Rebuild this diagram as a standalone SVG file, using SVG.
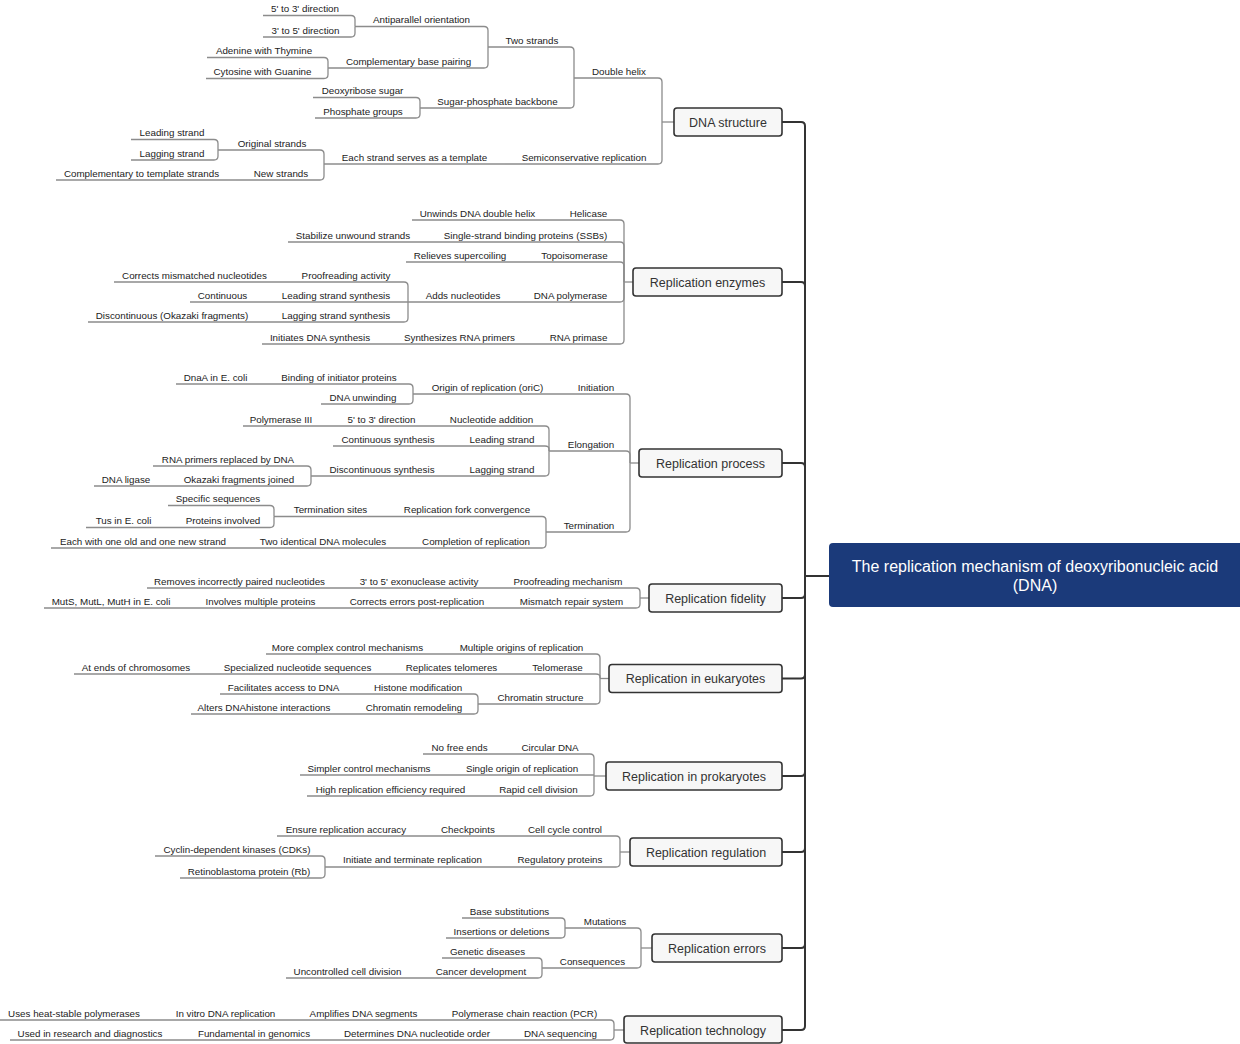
<svg xmlns="http://www.w3.org/2000/svg" width="1240" height="1044" viewBox="0 0 1240 1044">
<style>
.t{font-family:"Liberation Sans",Arial,sans-serif;font-size:9.8px;fill:#222;text-anchor:middle}
.m{font-family:"Liberation Sans",Arial,sans-serif;font-size:12.5px;fill:#333;text-anchor:middle}
.r{font-family:"Liberation Sans",Arial,sans-serif;font-size:16px;fill:#fff;text-anchor:middle}
.box{fill:#f7f7f7;stroke:#333;stroke-width:1.6}
.ln path{fill:none;stroke:#8c8c8c;stroke-width:1.3}
.tr path{fill:none;stroke:#333;stroke-width:2}
</style>
<rect width="1240" height="1044" fill="#fff"/>
<g id="connectors">
<g class="tr">
<path d="M782 122H801Q805 122 805 126V576"/>
<path d="M782 282H801Q805 282 805 286V576"/>
<path d="M782 463H801Q805 463 805 467V576"/>
<path d="M782 598H801Q805 598 805 594V576"/>
<path d="M782 678.5H801Q805 678.5 805 674.5V576"/>
<path d="M782 776H801Q805 776 805 772V576"/>
<path d="M782 852H801Q805 852 805 848V576"/>
<path d="M782 948H801Q805 948 805 944V576"/>
<path d="M782 1030H801Q805 1030 805 1026V576"/>
<path d="M805 576H829"/>
</g>
<g class="ln">
<!-- DNA structure -->
<path d="M662 122H674"/>
<path d="M574 78H658Q662 78 662 82V122"/>
<path d="M505 164H658Q662 164 662 160V122"/>
<path d="M488 47H570Q574 47 574 51V78"/>
<path d="M420 108H570Q574 108 574 104V78"/>
<path d="M355 26.5H484Q488 26.5 488 30.5V47"/>
<path d="M328 68H484Q488 68 488 64V47"/>
<path d="M263 15.5H351Q355 15.5 355 19.5V26.5"/>
<path d="M263 37H351Q355 37 355 33V26.5"/>
<path d="M207 57.5H324Q328 57.5 328 61.5V68"/>
<path d="M206 78.5H324Q328 78.5 328 74.5V68"/>
<path d="M313 97.5H416Q420 97.5 420 101.5V108"/>
<path d="M315 118H416Q420 118 420 114V108"/>
<path d="M324 164H505"/>
<path d="M218 150H320Q324 150 324 154V164"/>
<path d="M236 180H320Q324 180 324 176V164"/>
<path d="M131 139.5H214Q218 139.5 218 143.5V150"/>
<path d="M131 160H214Q218 160 218 156V150"/>
<path d="M56 180H236"/>
<!-- Replication enzymes -->
<path d="M624 282H633"/>
<path d="M412 220H620Q624 220 624 224V282"/>
<path d="M288 242H620Q624 242 624 246V282"/>
<path d="M406 262H620Q624 262 624 266V282"/>
<path d="M408 302H620Q624 302 624 298V282"/>
<path d="M262 344H620Q624 344 624 340V282"/>
<path d="M114 282H404Q408 282 408 286V302"/>
<path d="M190 302H408"/>
<path d="M88 322H404Q408 322 408 318V302"/>
<!-- Replication process -->
<path d="M630 463H639"/>
<path d="M413 394H626Q630 394 630 398V463"/>
<path d="M549 451H626Q630 451 630 455V463"/>
<path d="M546 532H626Q630 532 630 528V463"/>
<path d="M176 384H409Q413 384 413 388V394"/>
<path d="M321 404H409Q413 404 413 400V394"/>
<path d="M243 426H545Q549 426 549 430V451"/>
<path d="M333 446H545Q549 446 549 449V451"/>
<path d="M311 476H545Q549 476 549 472V451"/>
<path d="M153 466H307Q311 466 311 470V476"/>
<path d="M94 486H307Q311 486 311 482V476"/>
<path d="M274 516.5H542Q546 516.5 546 520.5V532"/>
<path d="M51 548H542Q546 548 546 544V532"/>
<path d="M168 505.5H270Q274 505.5 274 509.5V516.5"/>
<path d="M86 527.5H270Q274 527.5 274 523.5V516.5"/>
<!-- Replication fidelity -->
<path d="M640 598H649"/>
<path d="M147 588H636Q640 588 640 592V598"/>
<path d="M44 608H636Q640 608 640 604V598"/>
<!-- Eukaryotes -->
<path d="M600 678.5H609"/>
<path d="M266 654H596Q600 654 600 658V678.5"/>
<path d="M74 674H596Q600 674 600 677V678.5"/>
<path d="M478 704H596Q600 704 600 700V678.5"/>
<path d="M220 694H474Q478 694 478 698V704"/>
<path d="M191 714H474Q478 714 478 710V704"/>
<!-- Prokaryotes -->
<path d="M594 776H606"/>
<path d="M423 754H590Q594 754 594 758V776"/>
<path d="M300 775H594"/>
<path d="M307 796H590Q594 796 594 792V776"/>
<!-- Regulation -->
<path d="M620 852H630"/>
<path d="M277 836H616Q620 836 620 840V852"/>
<path d="M325 867H616Q620 867 620 863V852"/>
<path d="M155 856H321Q325 856 325 860V867"/>
<path d="M180 878H321Q325 878 325 874V867"/>
<!-- Errors -->
<path d="M641 948H652"/>
<path d="M565 928H637Q641 928 641 932V948"/>
<path d="M542 968H637Q641 968 641 964V948"/>
<path d="M462 918H561Q565 918 565 922V928"/>
<path d="M446 938H561Q565 938 565 934V928"/>
<path d="M442 958H538Q542 958 542 962V968"/>
<path d="M286 978H538Q542 978 542 974V968"/>
<!-- Technology -->
<path d="M614 1030H624"/>
<path d="M0 1020H610Q614 1020 614 1024V1030"/>
<path d="M10 1040H610Q614 1040 614 1036V1030"/>
</g>
</g>

<g id="root">
<rect x="829" y="543" width="415" height="64" rx="4" fill="#1b3a7a"/>
<text class="r" x="1035" y="571.5">The replication mechanism of deoxyribonucleic acid</text>
<text class="r" x="1035" y="591">(DNA)</text>
</g>

<g id="dna-structure">
<rect class="box" x="674" y="108" width="108" height="28" rx="3"/>
<text class="m" x="728" y="126.5">DNA structure</text>
<text class="t" x="305" y="12">5' to 3' direction</text>
<text class="t" x="305.5" y="33.5">3' to 5' direction</text>
<text class="t" x="421.5" y="23">Antiparallel orientation</text>
<text class="t" x="264" y="54">Adenine with Thymine</text>
<text class="t" x="262.5" y="75">Cytosine with Guanine</text>
<text class="t" x="408.5" y="64.5">Complementary base pairing</text>
<text class="t" x="532" y="43.5">Two strands</text>
<text class="t" x="362.5" y="94">Deoxyribose sugar</text>
<text class="t" x="363" y="114.5">Phosphate groups</text>
<text class="t" x="497.5" y="104.5">Sugar-phosphate backbone</text>
<text class="t" x="619" y="74.5">Double helix</text>
<text class="t" x="172" y="136">Leading strand</text>
<text class="t" x="172" y="156.5">Lagging strand</text>
<text class="t" x="272" y="146.5">Original strands</text>
<text class="t" x="141.5" y="176.5">Complementary to template strands</text>
<text class="t" x="281" y="176.5">New strands</text>
<text class="t" x="414.5" y="160.5">Each strand serves as a template</text>
<text class="t" x="584" y="160.5">Semiconservative replication</text>
</g>

<g id="replication-enzymes">
<rect class="box" x="633" y="268" width="149" height="28" rx="3"/>
<text class="m" x="707.5" y="286.5">Replication enzymes</text>
<text class="t" x="588.5" y="216.5">Helicase</text>
<text class="t" x="477.5" y="216.5">Unwinds DNA double helix</text>
<text class="t" x="525.5" y="238.5">Single-strand binding proteins (SSBs)</text>
<text class="t" x="353" y="238.5">Stabilize unwound strands</text>
<text class="t" x="574.5" y="258.5">Topoisomerase</text>
<text class="t" x="460" y="258.5">Relieves supercoiling</text>
<text class="t" x="570.5" y="298.5">DNA polymerase</text>
<text class="t" x="463" y="298.5">Adds nucleotides</text>
<text class="t" x="346" y="278.5">Proofreading activity</text>
<text class="t" x="194.5" y="278.5">Corrects mismatched nucleotides</text>
<text class="t" x="336" y="298.5">Leading strand synthesis</text>
<text class="t" x="222.5" y="298.5">Continuous</text>
<text class="t" x="336" y="318.5">Lagging strand synthesis</text>
<text class="t" x="172" y="318.5">Discontinuous (Okazaki fragments)</text>
<text class="t" x="578.5" y="340.5">RNA primase</text>
<text class="t" x="459.5" y="340.5">Synthesizes RNA primers</text>
<text class="t" x="320" y="340.5">Initiates DNA synthesis</text>
</g>

<g id="replication-process">
<rect class="box" x="639" y="449" width="143" height="28" rx="3"/>
<text class="m" x="710.5" y="467.5">Replication process</text>
<text class="t" x="596" y="390.5">Initiation</text>
<text class="t" x="487.5" y="390.5">Origin of replication (oriC)</text>
<text class="t" x="339" y="380.5">Binding of initiator proteins</text>
<text class="t" x="215.5" y="380.5">DnaA in E. coli</text>
<text class="t" x="363" y="400.5">DNA unwinding</text>
<text class="t" x="591" y="447.5">Elongation</text>
<text class="t" x="491.5" y="422.5">Nucleotide addition</text>
<text class="t" x="381.5" y="422.5">5' to 3' direction</text>
<text class="t" x="281" y="422.5">Polymerase III</text>
<text class="t" x="502" y="442.5">Leading strand</text>
<text class="t" x="388" y="442.5">Continuous synthesis</text>
<text class="t" x="502" y="472.5">Lagging strand</text>
<text class="t" x="382" y="472.5">Discontinuous synthesis</text>
<text class="t" x="228" y="462.5">RNA primers replaced by DNA</text>
<text class="t" x="239" y="482.5">Okazaki fragments joined</text>
<text class="t" x="126" y="482.5">DNA ligase</text>
<text class="t" x="589" y="528.5">Termination</text>
<text class="t" x="467" y="513">Replication fork convergence</text>
<text class="t" x="330.5" y="513">Termination sites</text>
<text class="t" x="218" y="502">Specific sequences</text>
<text class="t" x="223" y="524">Proteins involved</text>
<text class="t" x="123.5" y="524">Tus in E. coli</text>
<text class="t" x="476" y="544.5">Completion of replication</text>
<text class="t" x="323" y="544.5">Two identical DNA molecules</text>
<text class="t" x="143" y="544.5">Each with one old and one new strand</text>
</g>

<g id="replication-fidelity">
<rect class="box" x="649" y="584" width="133" height="28" rx="3"/>
<text class="m" x="715.5" y="602.5">Replication fidelity</text>
<text class="t" x="568" y="584.5">Proofreading mechanism</text>
<text class="t" x="419" y="584.5">3' to 5' exonuclease activity</text>
<text class="t" x="239.5" y="584.5">Removes incorrectly paired nucleotides</text>
<text class="t" x="571.5" y="604.5">Mismatch repair system</text>
<text class="t" x="417" y="604.5">Corrects errors post-replication</text>
<text class="t" x="260.5" y="604.5">Involves multiple proteins</text>
<text class="t" x="111" y="604.5">MutS, MutL, MutH in E. coli</text>
</g>

<g id="replication-eukaryotes">
<rect class="box" x="609" y="664.5" width="173" height="28" rx="3"/>
<text class="m" x="695.5" y="683">Replication in eukaryotes</text>
<text class="t" x="521.5" y="650.5">Multiple origins of replication</text>
<text class="t" x="347.5" y="650.5">More complex control mechanisms</text>
<text class="t" x="557.5" y="670.5">Telomerase</text>
<text class="t" x="451.5" y="670.5">Replicates telomeres</text>
<text class="t" x="297.5" y="670.5">Specialized nucleotide sequences</text>
<text class="t" x="136" y="670.5">At ends of chromosomes</text>
<text class="t" x="540.5" y="700.5">Chromatin structure</text>
<text class="t" x="418" y="690.5">Histone modification</text>
<text class="t" x="283.5" y="690.5">Facilitates access to DNA</text>
<text class="t" x="414" y="710.5">Chromatin remodeling</text>
<text class="t" x="264" y="710.5">Alters DNAhistone interactions</text>
</g>

<g id="replication-prokaryotes">
<rect class="box" x="606" y="762" width="176" height="28" rx="3"/>
<text class="m" x="694" y="780.5">Replication in prokaryotes</text>
<text class="t" x="550" y="750.5">Circular DNA</text>
<text class="t" x="459.5" y="750.5">No free ends</text>
<text class="t" x="522" y="771.5">Single origin of replication</text>
<text class="t" x="369" y="771.5">Simpler control mechanisms</text>
<text class="t" x="538.5" y="792.5">Rapid cell division</text>
<text class="t" x="390.5" y="792.5">High replication efficiency required</text>
</g>

<g id="replication-regulation">
<rect class="box" x="630" y="838" width="152" height="28" rx="3"/>
<text class="m" x="706" y="856.5">Replication regulation</text>
<text class="t" x="565" y="832.5">Cell cycle control</text>
<text class="t" x="468" y="832.5">Checkpoints</text>
<text class="t" x="346" y="832.5">Ensure replication accuracy</text>
<text class="t" x="560" y="863">Regulatory proteins</text>
<text class="t" x="412.5" y="863">Initiate and terminate replication</text>
<text class="t" x="237" y="852.5">Cyclin-dependent kinases (CDKs)</text>
<text class="t" x="249" y="874.5">Retinoblastoma protein (Rb)</text>
</g>

<g id="replication-errors">
<rect class="box" x="652" y="934" width="130" height="28" rx="3"/>
<text class="m" x="717" y="952.5">Replication errors</text>
<text class="t" x="605" y="924.5">Mutations</text>
<text class="t" x="509.5" y="914.5">Base substitutions</text>
<text class="t" x="501.5" y="934.5">Insertions or deletions</text>
<text class="t" x="592.5" y="964.5">Consequences</text>
<text class="t" x="487.5" y="954.5">Genetic diseases</text>
<text class="t" x="481" y="974.5">Cancer development</text>
<text class="t" x="347.5" y="974.5">Uncontrolled cell division</text>
</g>

<g id="replication-technology">
<rect class="box" x="624" y="1016" width="158" height="27" rx="3"/>
<text class="m" x="703" y="1034.5">Replication technology</text>
<text class="t" x="524.5" y="1016.5">Polymerase chain reaction (PCR)</text>
<text class="t" x="363.5" y="1016.5">Amplifies DNA segments</text>
<text class="t" x="225.5" y="1016.5">In vitro DNA replication</text>
<text class="t" x="74" y="1016.5">Uses heat-stable polymerases</text>
<text class="t" x="560.5" y="1036.5">DNA sequencing</text>
<text class="t" x="417" y="1036.5">Determines DNA nucleotide order</text>
<text class="t" x="254" y="1036.5">Fundamental in genomics</text>
<text class="t" x="90" y="1036.5">Used in research and diagnostics</text>
</g>
</svg>
